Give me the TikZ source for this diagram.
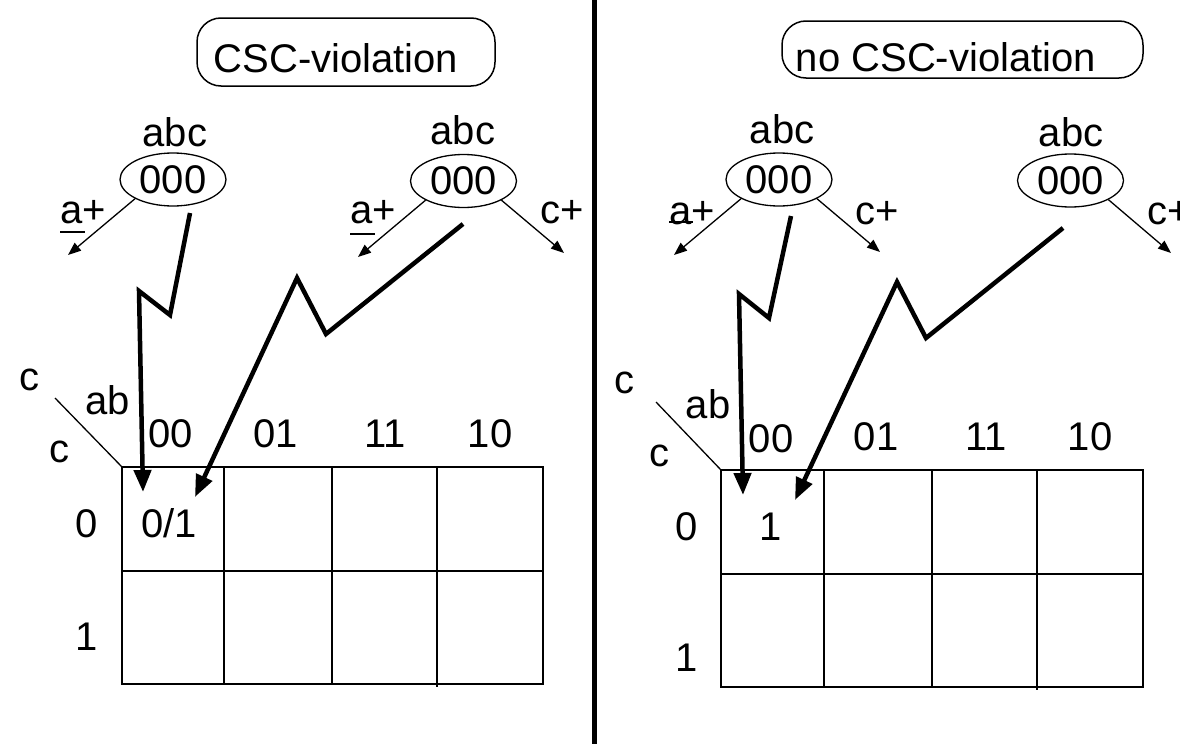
\documentclass[tikz,border=0pt]{standalone}
\usepackage{fontspec}
\setmainfont{Liberation Sans}
\usetikzlibrary{shapes.geometric,arrows.meta}
\begin{document}
\begin{tikzpicture}[x=1pt,y=-1pt,
  txt/.style={font=\fontsize{40}{48}\selectfont, inner sep=0pt, anchor=base},
  thinln/.style={line width=1.3pt},
  gridln/.style={line width=1.7pt},
  thinarrow/.style={line width=1.3pt, -{Triangle[length=13pt,width=10pt]}},
  bigarrow/.style={line width=4.5pt, line join=miter, -{Triangle[length=22pt,width=17pt]}},
  state/.style={ellipse, draw, line width=1.3pt, minimum width=106pt, minimum height=53pt, inner sep=0pt, font=\fontsize{40}{48}\selectfont},
  titlebox/.style={draw, rounded corners=24pt, line width=1.5pt, inner sep=0pt}
]
\useasboundingbox (0,0) rectangle (1180,744);

% divider
\draw[line width=5pt] (594,0) -- (594,744);

% ---------------- left panel ----------------
\node[titlebox, minimum width=298pt, minimum height=68pt] (boxL) at (346,52) {};
\node[txt] (titleL) at (336,72) {CSC-violation};

\node[txt] (abc1) at (175,146) {abc};
\node[state] (e1) at (173,179.5) {000};
\node[txt] (abc2) at (463,144) {abc};
\node[state] (e2) at (463.5,181) {000};

\coordinate (a1end) at (68,255);
\coordinate (a2end) at (358,257);
\coordinate (c2end) at (564,253);
\draw[thinarrow] (e1.south west) -- (a1end);
\draw[thinarrow] (e2.south west) -- (a2end);
\draw[thinarrow] (e2.south east) -- (c2end);
\node[txt, anchor=base west] (ap1) at (60,223) {a+};
\node[txt, anchor=base west] (ap2) at (350,223) {a+};
\node[txt, anchor=base west] (cp2) at (540,223) {c+};
\draw[thinln] ([yshift=-9pt]ap1.base west) -- ++(25,0);
\draw[thinln] ([yshift=-11pt]ap2.base west) -- ++(25,0);

% K-map left
\coordinate (kL) at (122,467);
\draw[gridln] (kL) rectangle (543,684);
\draw[gridln] (224,467) -- (224,684);
\draw[gridln] (332,467) -- (332,684);
\draw[gridln] (437,467) -- (437,687);
\draw[gridln] (122,571) -- (543,571);
\coordinate (dL) at (55,398);
\draw[thinln] (dL) -- (kL);
\node[txt] (cL1) at (29,390) {c};
\node[txt] (abL) at (108,414) {ab};
\node[txt] (cL2) at (59,462) {c};
\node[txt] (h00L) at (171,447) {00};
\node[txt] (h01L) at (276,447) {01};
\node[txt] (h11L) at (385,447) {11};
\node[txt] (h10L) at (490,447) {10};
\node[txt] (r0L) at (87,537) {0};
\node[txt] (r1L) at (87,650) {1};
\node[txt] (vL) at (169,537) {0/1};

% zigzag arrows left
\coordinate (z1s) at (190,213);
\coordinate (z1a) at (170,315);
\coordinate (z1b) at (139,291);
\coordinate (z1t) at (143,492);
\draw[bigarrow] (z1s) -- (z1a) -- (z1b) -- (z1t);
\coordinate (z2s) at (463,224);
\coordinate (z2a) at (326,334);
\coordinate (z2b) at (297,278);
\coordinate (z2t) at (195,497);
\draw[bigarrow] (z2s) -- (z2a) -- (z2b) -- (z2t);

% ---------------- right panel ----------------
\node[titlebox, minimum width=361pt, minimum height=57pt] (boxR) at (962.5,49.5) {};
\node[txt] (titleR) at (946,71) {no CSC-violation};

\node[txt] (abc3) at (782,143) {abc};
\node[state] (e3) at (779,179.5) {000};
\node[txt] (abc4) at (1071,146) {abc};
\node[state] (e4) at (1070.5,180.5) {000};

\coordinate (a3end) at (674,255);
\coordinate (c3end) at (880,252);
\coordinate (c4end) at (1171,253);
\draw[thinarrow] (e3.south west) -- (a3end);
\draw[thinarrow] (e3.south east) -- (c3end);
\draw[thinarrow] (e4.south east) -- (c4end);
\node[txt, anchor=base west] (ap3) at (669,224) {a+};
\node[txt, anchor=base west] (cp3) at (855,224) {c+};
\node[txt, anchor=base west] (cp4) at (1147,224) {c+};
\draw[thinln] ([yshift=2pt]ap3.base west) -- ++(24,0);

% K-map right
\coordinate (kR) at (721,470);
\draw[gridln] (kR) rectangle (1143,687);
\draw[gridln] (824,470) -- (824,687);
\draw[gridln] (932,470) -- (932,687);
\draw[gridln] (1037,470) -- (1037,690);
\draw[gridln] (721,574) -- (1143,574);
\coordinate (dR) at (656,402);
\draw[thinln] (dR) -- (kR);
\node[txt] (cR1) at (624,393) {c};
\node[txt] (abR) at (708,418) {ab};
\node[txt] (cR2) at (659,466) {c};
\node[txt] (h00R) at (771,452) {00};
\node[txt] (h01R) at (876,450) {01};
\node[txt] (h11R) at (986,450) {11};
\node[txt] (h10R) at (1090,450) {10};
\node[txt] (r0R) at (687,540) {0};
\node[txt] (r1R) at (687,671) {1};
\node[txt] (vR) at (771,540) {1};

% zigzag arrows right
\coordinate (z3s) at (791,216);
\coordinate (z3a) at (769,318);
\coordinate (z3b) at (739,294);
\coordinate (z3t) at (743,495);
\draw[bigarrow] (z3s) -- (z3a) -- (z3b) -- (z3t);
\coordinate (z4s) at (1063,228);
\coordinate (z4a) at (926,338);
\coordinate (z4b) at (897,282);
\coordinate (z4t) at (795,500);
\draw[bigarrow] (z4s) -- (z4a) -- (z4b) -- (z4t);
\end{tikzpicture}
\end{document}
